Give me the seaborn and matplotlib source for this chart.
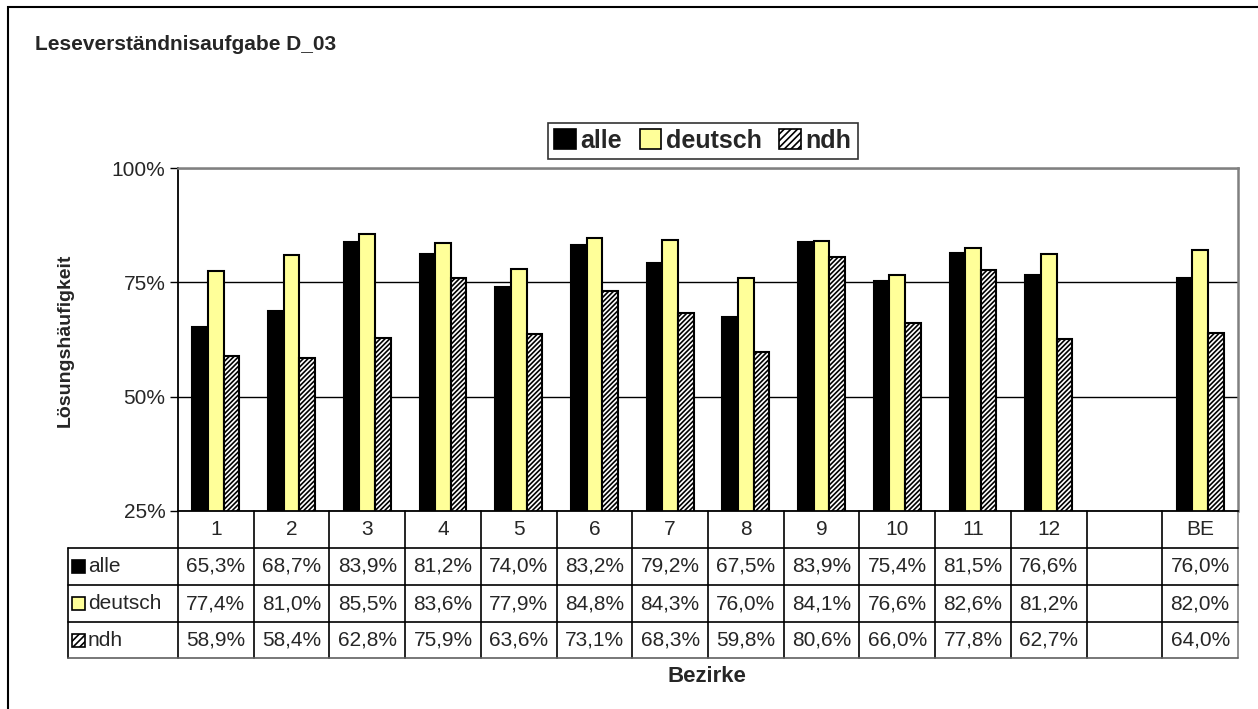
import matplotlib
matplotlib.use('Agg')
import matplotlib.pyplot as plt
import matplotlib.transforms as mtransforms
from matplotlib.patches import Rectangle, Patch
from matplotlib.lines import Line2D
import pandas as pd
import seaborn as sns

# Daten aus der Tabelle
bezirke = ['1', '2', '3', '4', '5', '6', '7', '8', '9', '10', '11', '12', '', 'BE']
alle = [65.3, 68.7, 83.9, 81.2, 74.0, 83.2, 79.2, 67.5, 83.9, 75.4, 81.5, 76.6, None, 76.0]
deutsch = [77.4, 81.0, 85.5, 83.6, 77.9, 84.8, 84.3, 76.0, 84.1, 76.6, 82.6, 81.2, None, 82.0]
ndh = [58.9, 58.4, 62.8, 75.9, 63.6, 73.1, 68.3, 59.8, 80.6, 66.0, 77.8, 62.7, None, 64.0]
gruppen = ['alle', 'deutsch', 'ndh']
farben = ['#000000', '#FFFF99', '#FFFFFF']
y_ticks = [25, 50, 75, 100]

reihen = {'alle': alle, 'deutsch': deutsch, 'ndh': ndh}
df = pd.DataFrame([
    {'bezirk': b, 'gruppe': g, 'wert': v}
    for g in gruppen for b, v in zip(bezirke, reihen[g]) if v is not None
])

sns.set_style('white')
plt.rcParams['font.family'] = ['Liberation Sans', 'DejaVu Sans']
plt.rcParams['hatch.linewidth'] = 1.2

W, H = 1258, 709
fig = plt.figure(figsize=(W / 100, H / 100), dpi=100)


def fx(px):
    return px / W


def fy(py):
    return 1 - py / H


ax = fig.add_axes([fx(178), fy(511), fx(1238) - fx(178), fy(168) - fy(511)])

sns.barplot(data=df, x='bezirk', y='wert', hue='gruppe', order=bezirke,
            hue_order=gruppen, palette=farben, width=0.62, edgecolor='black',
            linewidth=1.5, saturation=1, legend=False, ax=ax)

for bar in ax.containers[2]:
    bar.set_hatch('///////')

ax.set_ylim(25, 100)
ax.set_xlim(-0.5, len(bezirke) - 0.5)
ax.set_yticks(y_ticks)
ax.set_yticklabels([f'{t}%' for t in y_ticks], fontsize=15)
ax.tick_params(axis='y', left=True, length=6, width=1, color='black', pad=3)
ax.set_xticks([])
ax.set_xlabel('')
ax.set_ylabel('')
ax.yaxis.grid(True, color='black', lw=1)
ax.set_axisbelow(True)
for s in ['left', 'bottom']:
    ax.spines[s].set_color('black')
    ax.spines[s].set_linewidth(1.3)
for s in ['top', 'right']:
    ax.spines[s].set_color('#808080')
    ax.spines[s].set_linewidth(1.8)

# Datentabelle unter der Achse
tr_v = mtransforms.blended_transform_factory(ax.transData, fig.transFigure)
tr_h = mtransforms.blended_transform_factory(ax.transAxes, fig.transFigure)
links = (68 - 178) / (1238 - 178)
zeilen_y = [511, 548, 585, 622, 658]

for i in range(len(bezirke) + 1):
    farbe = '#808080' if i == len(bezirke) else 'black'
    ax.add_artist(Line2D([i - 0.5, i - 0.5], [fy(511), fy(658)], transform=tr_v,
                         color=farbe, lw=1.2, clip_on=False))
ax.add_artist(Line2D([links, links], [fy(548), fy(658)], transform=tr_h,
                     color='black', lw=1.2, clip_on=False))
for y in zeilen_y[1:]:
    ax.add_artist(Line2D([links, 1], [fy(y), fy(y)], transform=tr_h,
                         color='black' if y != 658 else '#606060', lw=1.2, clip_on=False))

for i, b in enumerate(bezirke):
    ax.text(i, fy(529.5), b, transform=tr_v, ha='center', va='center', fontsize=15)

for r, g in enumerate(gruppen):
    yc = fy((zeilen_y[r + 1] + zeilen_y[r + 2]) / 2)
    for i, v in enumerate(reihen[g]):
        if v is None:
            continue
        ax.text(i, yc, f'{v:.1f}%'.replace('.', ','), transform=tr_v,
                ha='center', va='center', fontsize=15)
    fig.add_artist(Rectangle((fx(72), yc - 6.5 / H), 13 / W, 13 / H, transform=fig.transFigure,
                             facecolor=farben[r], edgecolor='black', lw=1.2,
                             hatch='/////' if g == 'ndh' else None))
    fig.text(fx(88), yc, g, ha='left', va='center', fontsize=15)

# Legende
handles = [Patch(facecolor=farben[k], edgecolor='black', lw=1.2,
                 hatch='/////' if gruppen[k] == 'ndh' else None) for k in range(3)]
leg = fig.legend(handles, gruppen, loc='center', bbox_to_anchor=(fx(703), fy(141)),
                 ncol=3, frameon=True, fancybox=False, edgecolor='black',
                 prop={'weight': 'bold', 'size': 18}, handlelength=0.85,
                 handleheight=0.85, handletextpad=0.2, columnspacing=0.7,
                 borderpad=0.25, borderaxespad=0)
leg.get_frame().set_linewidth(1.2)

# Beschriftungen
fig.text(fx(35), fy(45), 'Leseverständnisaufgabe D_03', ha='left', va='center',
         fontsize=15, fontweight='bold')
fig.text(fx(65), fy(340), 'Lösungshäufigkeit', ha='center', va='center',
         rotation=90, fontsize=14, fontweight='bold')
fig.text(fx(707), fy(676), 'Bezirke', ha='center', va='center',
         fontsize=16, fontweight='bold')

# Rahmen ums Diagramm
fig.add_artist(Rectangle((fx(8), -0.1), 2, fy(7) + 0.1, transform=fig.transFigure,
                         fill=False, edgecolor='black', lw=1.5))

fig.savefig('out.png', dpi=100)
